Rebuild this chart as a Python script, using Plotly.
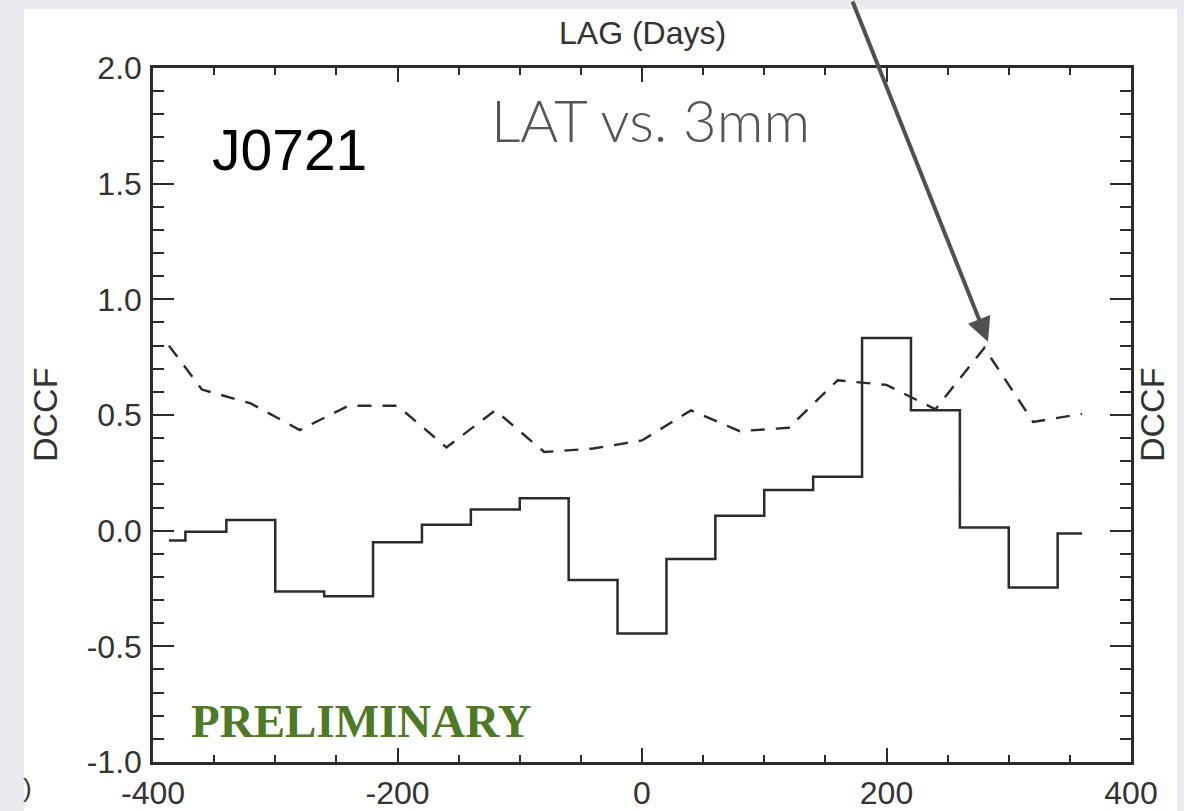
import plotly.graph_objects as go

# Discrete correlation function of J0721, binned in 40-day lags
lags = [-387, -360, -320, -280, -240, -200, -160, -120, -80, -40,
        0, 40, 80, 120, 160, 200, 240, 280, 320, 360]
dccf = [-0.043, -0.005, 0.046, -0.263, -0.283, -0.05, 0.026, 0.092, 0.14, -0.213,
        -0.445, -0.123, 0.065, 0.176, 0.233, 0.833, 0.52, 0.014, -0.246, -0.012]
# significance level curve
signif = [0.80, 0.61, 0.55, 0.435, 0.54, 0.54, 0.36, 0.52, 0.34, 0.355,
          0.39, 0.52, 0.43, 0.445, 0.65, 0.63, 0.525, 0.79, 0.47, 0.505]

x_ticks = [-400, -200, 0, 200, 400]
x_labels = ["-400", "-200", "0", "200", "400"]
y_ticks = [-1.0, -0.5, 0.0, 0.5, 1.0, 1.5, 2.0]
y_labels = ["-1.0", "-0.5", "0.0", "0.5", "1.0", "1.5", "2.0"]

W, H = 1184, 811
ML, MR, MT, MB = 153, 53, 68, 49
PW, PH = W - ML - MR, H - MT - MB
INK = "#2b2b2b"
SANS = "Liberation Sans, Arial, Helvetica, sans-serif"


def px_x(p):
    return (p - ML) / PW


def px_y(p):
    return (H - MB - p) / PH


fig = go.Figure()

fig.add_trace(go.Scatter(
    x=lags, y=signif, mode="lines",
    line=dict(color=INK, width=2.4, dash="14px,11px"),
    showlegend=False, hoverinfo="skip",
))
fig.add_trace(go.Scatter(
    x=lags, y=dccf, mode="lines", line_shape="hvh",
    line=dict(color=INK, width=2.5),
    showlegend=False, hoverinfo="skip",
))

# white card on the grey slide background
fig.add_shape(type="rect", xref="paper", yref="paper", layer="below",
              x0=px_x(24), x1=px_x(1177), y0=px_y(H + 5), y1=px_y(9),
              fillcolor="white", line_width=0)

axis_common = dict(
    showline=True, linecolor=INK, linewidth=2.5, mirror="ticks",
    ticks="inside", tickcolor=INK, tickwidth=2,
    showgrid=False, zeroline=False, automargin=False,
    tickfont=dict(family=SANS, size=32, color="#333333"),
)

fig.update_xaxes(range=[-400, 400], tickvals=x_ticks, ticktext=x_labels,
                 ticklen=14, ticklabelstandoff=1,
                 minor=dict(dtick=50, ticks="inside", ticklen=7,
                            tickwidth=2, tickcolor=INK, showgrid=False),
                 **axis_common)
fig.update_yaxes(range=[-1, 2], tickvals=y_ticks, ticktext=y_labels, ticklen=21,
                 ticklabelstandoff=2,
                 minor=dict(dtick=0.1, ticks="inside", ticklen=11,
                            tickwidth=2, tickcolor=INK, showgrid=False),
                 **axis_common)

annotations = [
    dict(text="LAG (Days)", xref="paper", yref="paper", x=0.5, y=px_y(33),
         showarrow=False, font=dict(family=SANS, size=32, color="#333333"),
         xanchor="center", yanchor="middle"),
    dict(text="DCCF", xref="paper", yref="paper", x=px_x(45), y=0.5,
         textangle=-90, showarrow=False,
         font=dict(family=SANS, size=34, color="#333333"),
         xanchor="center", yanchor="middle"),
    dict(text="DCCF", xref="paper", yref="paper", x=px_x(1152), y=0.5,
         textangle=-90, showarrow=False,
         font=dict(family=SANS, size=34, color="#333333"),
         xanchor="center", yanchor="middle"),
    dict(text="J0721", xref="x", yref="y", x=-353, y=1.647,
         showarrow=False, font=dict(family=SANS, size=57, color="black"),
         xanchor="left", yanchor="middle"),
    dict(text="LAT vs. 3mm", xref="x", yref="y", x=7, y=1.776,
         showarrow=False,
         font=dict(family="Lato, Open Sans, sans-serif", size=58,
                   color="#555555", weight=300),
         xanchor="center", yanchor="middle"),
    dict(text="<b>PRELIMINARY</b>", xref="x", yref="y", x=-229.6, y=-0.822,
         showarrow=False,
         font=dict(family="Liberation Serif, Times New Roman, serif", size=47,
                   color="#4e7a28"),
         xanchor="center", yanchor="middle"),
    # arrow pointing at the 280-day peak of the significance curve
    dict(text="", xref="x", yref="y", x=283, y=0.817,
         ax=-136, ay=-355, axref="pixel", ayref="pixel",
         showarrow=True, arrowhead=2, arrowsize=1.2, arrowwidth=4,
         arrowcolor="#505050"),
    dict(text=")", xref="paper", yref="paper", x=px_x(27), y=px_y(788),
         showarrow=False, font=dict(family=SANS, size=26, color="#333333"),
         xanchor="center", yanchor="middle"),
]

fig.update_layout(
    width=W, height=H,
    margin=dict(l=ML, r=MR, t=MT, b=MB, pad=0),
    paper_bgcolor="#e8eaee", plot_bgcolor="white",
    annotations=annotations,
)

fig.write_html("out.html")
